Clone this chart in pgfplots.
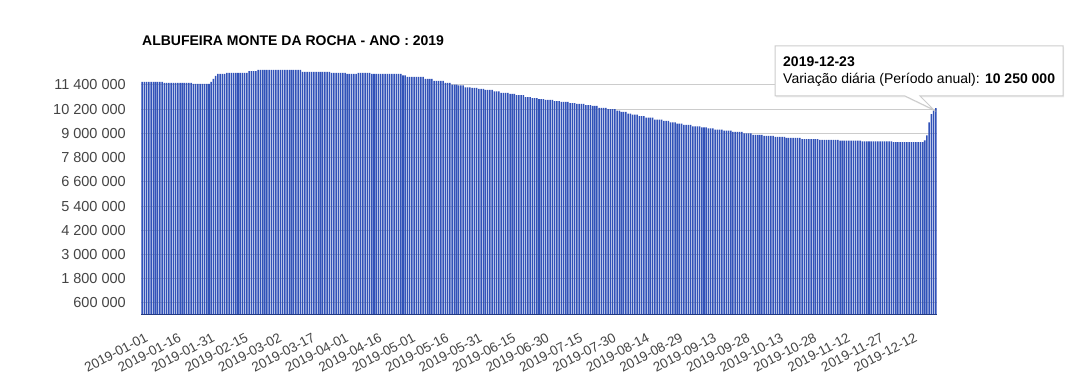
\documentclass[border=0pt]{standalone}
\usepackage{fontspec}
\setmainfont{Liberation Sans}
\usepackage{pgfplots}
\usepackage{pgfplotstable}
\pgfplotsset{compat=1.18}
\usetikzlibrary{shadows}
\definecolor{barblue}{HTML}{3152B8}
\definecolor{ticktext}{HTML}{444444}
\definecolor{gridc}{HTML}{CCCCCC}

\pgfplotstableread[row sep=\\]{
v\\
11550000\\11550000\\11550000\\11550000\\11550000\\11550000\\11550000\\11550000\\11550000\\11550000\\
11500000\\11500000\\11500000\\11500000\\11500000\\11500000\\11500000\\11500000\\11500000\\11500000\\11500000\\11500000\\11500000\\
11450000\\11450000\\11450000\\11450000\\11450000\\11450000\\11450000\\11450000\\
11550000\\11700000\\11850000\\
11950000\\11950000\\11950000\\11950000\\
12000000\\12000000\\12000000\\12000000\\12000000\\12000000\\12000000\\12000000\\12000000\\12000000\\
12080000\\12080000\\12080000\\12080000\\
12140000\\12140000\\12140000\\12140000\\12140000\\12140000\\12140000\\12140000\\12140000\\12140000\\
12140000\\12140000\\12140000\\12140000\\12140000\\12140000\\12140000\\12140000\\12140000\\12140000\\
12040000\\12040000\\12040000\\12040000\\12040000\\12040000\\12040000\\12040000\\12040000\\12040000\\12040000\\12040000\\12040000\\
12000000\\12000000\\12000000\\12000000\\12000000\\12000000\\12000000\\
11950000\\11950000\\11950000\\11950000\\11950000\\
12000000\\12000000\\12000000\\12000000\\12000000\\12000000\\
11950000\\11950000\\11950000\\11950000\\11950000\\11950000\\11950000\\11950000\\11950000\\11950000\\11950000\\11950000\\11950000\\11950000\\
11870000\\11870000\\
11800000\\11800000\\11800000\\11800000\\11800000\\11800000\\11800000\\11800000\\
11700000\\11700000\\11700000\\11700000\\
11600000\\11600000\\11600000\\11600000\\11600000\\
11500000\\11500000\\11500000\\
11420000\\11420000\\11420000\\
11380000\\11380000\\11380000\\
11280000\\11280000\\11280000\\
11250000\\11250000\\11250000\\
11200000\\11200000\\11200000\\
11150000\\11150000\\11150000\\11150000\\
11080000\\11080000\\11080000\\
11000000\\11000000\\11000000\\11000000\\
10950000\\10950000\\10950000\\
10900000\\10900000\\10900000\\10900000\\
10800000\\10800000\\10800000\\
10750000\\10750000\\10750000\\
10700000\\10700000\\10700000\\
10660000\\10660000\\10660000\\10660000\\
10600000\\10600000\\10600000\\
10560000\\10560000\\10560000\\10560000\\
10500000\\10500000\\10500000\\
10460000\\10460000\\10460000\\10460000\\
10400000\\10400000\\10400000\\
10360000\\10360000\\10360000\\
10260000\\10260000\\10260000\\10260000\\
10200000\\10200000\\10200000\\10200000\\
10120000\\10120000\\
10060000\\10060000\\10060000\\
9980000\\9980000\\
9930000\\9930000\\9930000\\
9850000\\9850000\\9850000\\
9780000\\9780000\\9780000\\9780000\\
9680000\\9680000\\9680000\\9680000\\
9620000\\9620000\\9620000\\
9550000\\9550000\\9550000\\
9480000\\9480000\\9480000\\
9420000\\9420000\\9420000\\9420000\\
9350000\\9350000\\9350000\\9350000\\
9300000\\9300000\\9300000\\
9250000\\9250000\\9250000\\
9180000\\9180000\\9180000\\9180000\\
9130000\\9130000\\9130000\\9130000\\
9070000\\9070000\\9070000\\9070000\\9070000\\
9000000\\9000000\\9000000\\9000000\\
8930000\\8930000\\8930000\\8930000\\8930000\\
8880000\\8880000\\8880000\\8880000\\8880000\\
8820000\\8820000\\8820000\\8820000\\8820000\\
8770000\\8770000\\8770000\\8770000\\8770000\\8770000\\8770000\\
8720000\\8720000\\8720000\\8720000\\8720000\\8720000\\8720000\\8720000\\
8680000\\8680000\\8680000\\8680000\\8680000\\8680000\\8680000\\8680000\\8680000\\
8640000\\8640000\\8640000\\8640000\\8640000\\8640000\\8640000\\8640000\\8640000\\8640000\\
8600000\\8600000\\8600000\\8600000\\8600000\\8600000\\8600000\\8600000\\8600000\\8600000\\8600000\\8600000\\8600000\\8600000\\
8570000\\8570000\\8570000\\8570000\\8570000\\8570000\\8570000\\8570000\\8570000\\8570000\\8570000\\8570000\\8570000\\8570000\\
8650000\\8900000\\9550000\\9950000\\10120000\\10250000\\
}\data

\begin{document}
\begin{tikzpicture}[x=1pt,y=1pt]
\useasboundingbox (0,0) rectangle (1071,382);
\begin{axis}[
  at={(141pt,67pt)}, anchor=south west,
  scale only axis, width=796pt, height=254.3pt,
  xmin=-0.5, xmax=356.5, ymin=0, ymax=12600000,
  scaled y ticks=false,
  ybar, bar width=0.68,
  axis line style={draw=none},
  major tick length=0pt,
  ytick={600000,1800000,3000000,4200000,5400000,6600000,7800000,9000000,10200000,11400000},
  yticklabels={600 000,1 800 000,3 000 000,4 200 000,5 400 000,6 600 000,7 800 000,9 000 000,10 200 000,11 400 000},
  ymajorgrids, major grid style={gridc, line width=1pt},
  xtick={0,15,...,345},
  xticklabels={2019-01-01,2019-01-16,2019-01-31,2019-02-15,2019-03-02,2019-03-17,2019-04-01,2019-04-16,2019-05-01,2019-05-16,2019-05-31,2019-06-15,2019-06-30,2019-07-15,2019-07-30,2019-08-14,2019-08-29,2019-09-13,2019-09-28,2019-10-13,2019-10-28,2019-11-12,2019-11-27,2019-12-12},
  tick label style={text=ticktext},
  yticklabel style={font=\fontsize{14.5}{16}\selectfont, anchor=east, inner sep=0pt, xshift=-15pt},
  xticklabel style={font=\fontsize{13.5}{15}\selectfont, rotate=28, anchor=east, inner sep=0pt, yshift=-21pt, xshift=-6pt},
  clip=false,
]
\addplot[fill=barblue, draw=none] table[x expr=\coordindex, y=v] {\data};
\draw[barblue!70!black, line width=1pt] (axis cs:-0.5,0) -- (axis cs:356.5,0);
\end{axis}
\node[anchor=base west, inner sep=0pt, font=\fontsize{14}{16}\selectfont\bfseries] at (142,336) {ALBUFEIRA MONTE DA ROCHA - ANO : 2019};
\path[fill=white, draw=gridc, line width=1pt, drop shadow={opacity=0.15, shadow xshift=1pt, shadow yshift=-1.5pt}]
  (775,336) -- (1063,336) -- (1063,286) -- (920,286) -- (934,272) -- (905,286) -- (775,286) -- cycle;
\node[anchor=base west, inner sep=0pt, font=\fontsize{14}{16}\selectfont\bfseries] at (783,315) {2019-12-23};
\node[anchor=base west, inner sep=0pt, font=\fontsize{14}{16}\selectfont] at (783,298) {Variação diária (Período anual): \textbf{10 250 000}};
\end{tikzpicture}
\end{document}
